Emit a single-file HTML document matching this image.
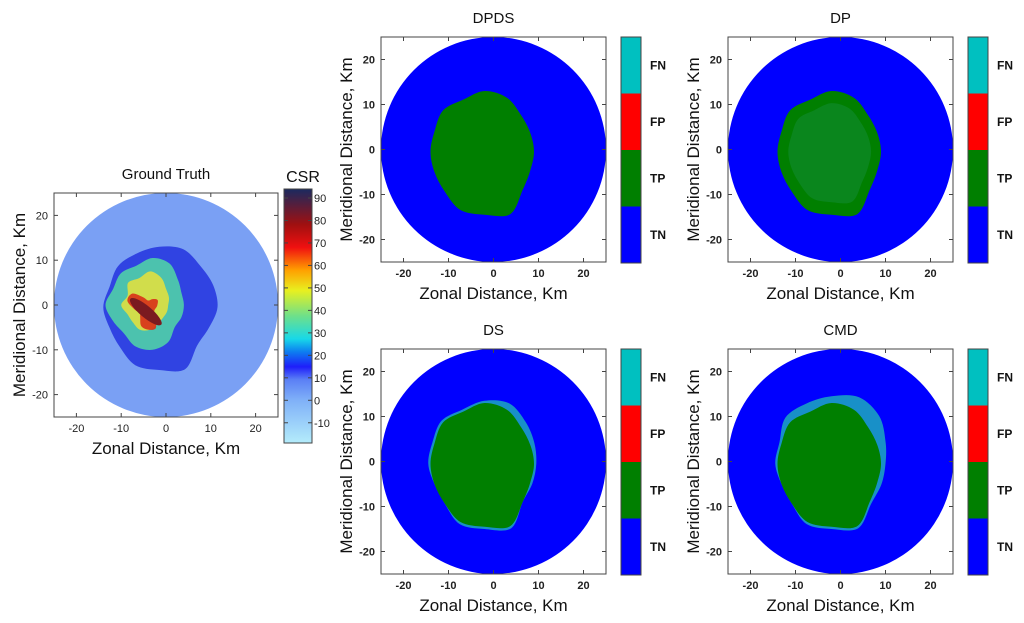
<!DOCTYPE html>
<html><head><meta charset="utf-8"><style>
body{margin:0;background:#fff}
svg text{font-family:"Liberation Sans",Arial,sans-serif}
</style></head><body>
<svg id="s" width="1024" height="618" viewBox="0 0 1024 618" xmlns="http://www.w3.org/2000/svg">
<defs>
<linearGradient id="csr" x1="0" y1="1" x2="0" y2="0">
<stop offset="0" stop-color="#b4ecfb"/>
<stop offset="0.17" stop-color="#7fb0f8"/>
<stop offset="0.25" stop-color="#5a7ff5"/>
<stop offset="0.3" stop-color="#1e1efa"/>
<stop offset="0.36" stop-color="#0d7ff0"/>
<stop offset="0.41" stop-color="#18d8e8"/>
<stop offset="0.5" stop-color="#6ee08a"/>
<stop offset="0.6" stop-color="#e8f020"/>
<stop offset="0.68" stop-color="#ffa000"/>
<stop offset="0.77" stop-color="#f01010"/>
<stop offset="0.86" stop-color="#a01010"/>
<stop offset="1" stop-color="#1a2a60"/>
</linearGradient>
</defs>
</svg>
<script>
// ---- data ----
const ticks=[-20,-10,0,10,20];
const angles=[0,22.5,45,67.5,90,112.5,135,157.5,180,202.5,225,247.5,270,292.5,315,337.5];
const echoCenter=[-2,-0.5];
const echoRadius=[11,11,11.5,13,13.5,12.5,13,12,12,12,12.5,14,14,15,12,11];
const cmdCyanRadius=[12,13,15,16,15,14.5,14.5,12.5,12.5,12,12.5,14.5,14.5,15.5,12.5,12];
const dsCyanRadius=[11.5,12,13,14.5,14,13,13.5,12.5,12.5,12,12.5,14.5,14.5,15.5,12,11.5];
const gtBlueRadius=[13,13,13,14,13.5,13,13,12,12.5,12,12.5,14,14,15,12,12];
const gtGreenRadius=[7,7,8,10,10.5,9.5,10,9.5,10.5,9.5,9,10,10,9,7,7];
const gtYellowRadius=[4,4.5,5,6.5,7.5,6.5,7,5.5,6.5,5.5,5.5,6,5.5,4.5,4,4];
const gtRedRadius=[1.5,2.2,3,2.5,2,3,5,5,3,2,2.5,4,4.5,4.5,2.2,1.5];
const classLabels=["FN","FP","TP","TN"];
const classColors=["#00c0c0","#ff0000","#007f00","#0000ff"];
const csrTicks=[90,80,70,60,50,40,30,20,10,0,-10];
const csrMin=-19, csrMax=94;

const NS="http://www.w3.org/2000/svg";
const svg=document.getElementById('s');
function el(tag,attrs,parent,txt){const e=document.createElementNS(NS,tag);for(const k in attrs)e.setAttribute(k,attrs[k]);if(txt!==undefined)e.textContent=txt;(parent||svg).appendChild(e);return e;}

function makeAxes(x0,y0,size){return{x:v=>x0+(v+25)/50*size,y:v=>y0+(25-v)/50*size,x0,y0,size};}
function blobPath(ax,center,radii,sc){
  const pts=radii.map((r,i)=>{const a=angles[i]*Math.PI/180;return[ax.x(center[0]+r*(sc||1)*Math.cos(a)),ax.y(center[1]+r*(sc||1)*Math.sin(a))];});
  const n=pts.length;let d="M"+pts[0][0].toFixed(1)+","+pts[0][1].toFixed(1);
  for(let i=0;i<n;i++){const p0=pts[(i-1+n)%n],p1=pts[i],p2=pts[(i+1)%n],p3=pts[(i+2)%n];
    const c1=[p1[0]+(p2[0]-p0[0])/6,p1[1]+(p2[1]-p0[1])/6],c2=[p2[0]-(p3[0]-p1[0])/6,p2[1]-(p3[1]-p1[1])/6];
    d+=` C${c1[0].toFixed(1)},${c1[1].toFixed(1)} ${c2[0].toFixed(1)},${c2[1].toFixed(1)} ${p2[0].toFixed(1)},${p2[1].toFixed(1)}`;}
  return d+"Z";
}
function axesFrame(ax,g,bold,title){
  const s=ax.size;
  el('rect',{x:ax.x0,y:ax.y0,width:s,height:s,fill:'none',stroke:'#444','stroke-width':1},g);
  ticks.forEach(t=>{
    el('line',{x1:ax.x(t),x2:ax.x(t),y1:ax.y0+s,y2:ax.y0+s-4,stroke:'#444'},g);
    el('line',{x1:ax.x(t),x2:ax.x(t),y1:ax.y0,y2:ax.y0+4,stroke:'#444'},g);
    el('line',{x1:ax.x0,x2:ax.x0+4,y1:ax.y(t),y2:ax.y(t),stroke:'#444'},g);
    el('line',{x1:ax.x0+s,x2:ax.x0+s-4,y1:ax.y(t),y2:ax.y(t),stroke:'#444'},g);
    const xt=el('text',{x:ax.x(t),y:ax.y0+s+15,'text-anchor':'middle','font-size':11,'font-weight':bold?'bold':'normal',fill:'#222'},g,String(t));
    
    const yt=el('text',{x:ax.x0-6,y:ax.y(t)+4,'text-anchor':'end','font-size':11,'font-weight':bold?'bold':'normal',fill:'#222'},g,String(t));
    
  });
  const xl=el('text',{x:ax.x0+s/2,y:ax.y0+s+37,'text-anchor':'middle','font-size':17,fill:'#111'},g,'Zonal Distance, Km');
  
  const yx=ax.x0-29,yy=ax.y0+s/2;
  const yl=el('text',{x:yx,y:yy,'text-anchor':'middle','font-size':17,fill:'#111',transform:`rotate(-90 ${yx} ${yy})`},g,'Meridional Distance, Km');
  
  const tt=el('text',{x:ax.x0+s/2,y:ax.y0-14,'text-anchor':'middle','font-size':15,fill:'#111'},g,title);
  
}
function disk(ax,g,fill){const c=el('circle',{cx:ax.x(0),cy:ax.y(0),r:ax.size/2,fill},g);}

// ---- Ground truth ----
(function(){
  const g=el('g',{});
  const ax=makeAxes(54,193,224);
  disk(ax,g,'#7aa0f4');
  const layers=[[gtBlueRadius,'#2838e0',[-1.5,-0.5]],[gtGreenRadius,'#50d0a8',[-3,0]],[gtYellowRadius,'#e0e040',[-3.5,0]],[gtRedRadius,'#d83018',[-4,-1]]];
  layers.forEach(L=>{const p=el('path',{d:blobPath(ax,L[2],L[0]),fill:L[1],opacity:0.9},g);});
  const core=el('ellipse',{cx:ax.x(-4.5),cy:ax.y(-1.5),rx:ax.size*4.5/50,ry:ax.size*1.3/50,fill:'#7a1a20',transform:`rotate(40 ${ax.x(-4.5)} ${ax.y(-1.5)})`},g);
  
  axesFrame(ax,g,false,'Ground Truth');
  const cb={x0:284,x1:312,y0:189,y1:443};
  const cy=v=>cb.y1-(v-csrMin)/(csrMax-csrMin)*(cb.y1-cb.y0);
  const r=el('rect',{x:cb.x0,y:cb.y0,width:cb.x1-cb.x0,height:cb.y1-cb.y0,fill:'url(#csr)',stroke:'#444'},g);
  
  csrTicks.forEach(t=>{
    el('line',{x1:cb.x1,x2:cb.x1-4,y1:cy(t),y2:cy(t),stroke:'#444'},g);
    el('line',{x1:cb.x0,x2:cb.x0+4,y1:cy(t),y2:cy(t),stroke:'#444'},g);
    const tl=el('text',{x:cb.x1+2,y:cy(t)+4,'font-size':11,fill:'#222'},g,String(t));
    
  });
  const ct=el('text',{x:303,y:182,'text-anchor':'middle','font-size':16,fill:'#111'},g,'CSR');
  
})();

// ---- classification panels ----
const panels=[
  {title:'DPDS',x:381,y:37,cyan:null,dots:false},
  {title:'DP',x:728,y:37,cyan:null,dots:true},
  {title:'DS',x:381,y:349,cyan:dsCyanRadius,dots:false},
  {title:'CMD',x:728,y:349,cyan:cmdCyanRadius,dots:false}
];
panels.forEach(P=>{
  const g=el('g',{});
  const ax=makeAxes(P.x,P.y,225);
  disk(ax,g,'#0000ff');
  if(P.cyan){const c=el('path',{d:blobPath(ax,echoCenter,P.cyan),fill:'#1890c8'},g);}
  const gp=el('path',{d:blobPath(ax,echoCenter,echoRadius),fill:'#007f00'},g);
  
  if(P.dots){const d=el('path',{d:blobPath(ax,echoCenter,echoRadius,0.8),fill:'#108a30',opacity:0.6},g);}
  axesFrame(ax,g,true,P.title);
  const cb={x0:P.x+240,x1:P.x+260,y0:P.y,y1:P.y+226};
  const h=(cb.y1-cb.y0)/classLabels.length;
  classLabels.forEach((lab,i)=>{
    const r=el('rect',{x:cb.x0,y:cb.y0+i*h,width:cb.x1-cb.x0,height:h,fill:classColors[i]},g);
    
    const t=el('text',{x:cb.x1+9,y:cb.y0+i*h+h/2+4,'font-size':12,'font-weight':'bold',fill:'#111'},g,lab);
    
  });
  el('rect',{x:cb.x0,y:cb.y0,width:cb.x1-cb.x0,height:cb.y1-cb.y0,fill:'none',stroke:'#444'},g);
});
</script>
</body></html>
